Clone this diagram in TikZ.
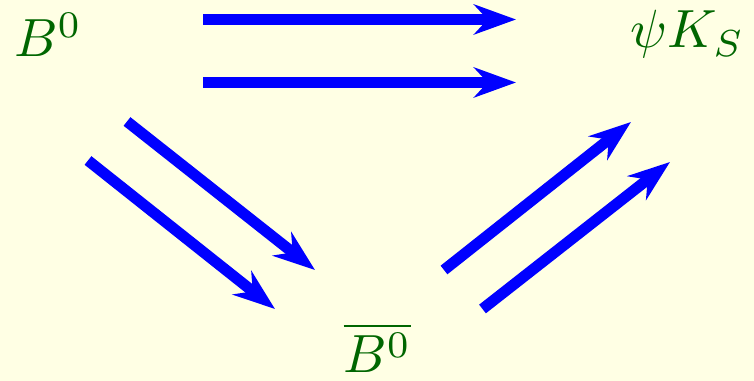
\documentclass[tikz,border=0pt]{standalone}
\usetikzlibrary{arrows.meta}
\definecolor{fondo}{RGB}{255,255,228}
\definecolor{verde}{RGB}{0,102,0}
\newcommand{\grande}[1]{\scalebox{2.7}{#1}}

\begin{document}
\begin{tikzpicture}[
        x=0.5bp,
        y=0.5bp,
        every node/.style={
            text=verde,
            inner sep=0pt
        },
        flecha/.style={
            draw=blue,
            line width=5.5bp,
            -{Stealth[length=21bp,width=15bp]}
        }
    ]

    % Fondo
    \fill[fondo] (0,0) rectangle (754,381);

    % Estados
    \node[anchor=base west] (b0)  at (14,324)  {\grande{$B^0$}};
    \node[anchor=base east] (psk) at (745,333) {\grande{$\psi K_S$}};
    \node[anchor=base]      (b0b) at (377.5,8) {\grande{$\overline{B^0}$}};

    % Extremos de las flechas
    \coordinate (s1) at (203,361.5);  \coordinate (t1) at (516,361.5);
    \coordinate (s2) at (203,298.5);  \coordinate (t2) at (516,298.5);
    \coordinate (s3) at (127,259.5);  \coordinate (t3) at (315,111);
    \coordinate (s4) at (88,220.5);   \coordinate (t4) at (275,72);
    \coordinate (s5) at (444,111);    \coordinate (t5) at (631,259);
    \coordinate (s6) at (482.5,72);   \coordinate (t6) at (670,219);

    % Flechas
    \draw[flecha] (s1) -- (t1);
    \draw[flecha] (s2) -- (t2);
    \draw[flecha] (s3) -- (t3);
    \draw[flecha] (s4) -- (t4);
    \draw[flecha] (s5) -- (t5);
    \draw[flecha] (s6) -- (t6);

    \end{tikzpicture}
\end{document}
